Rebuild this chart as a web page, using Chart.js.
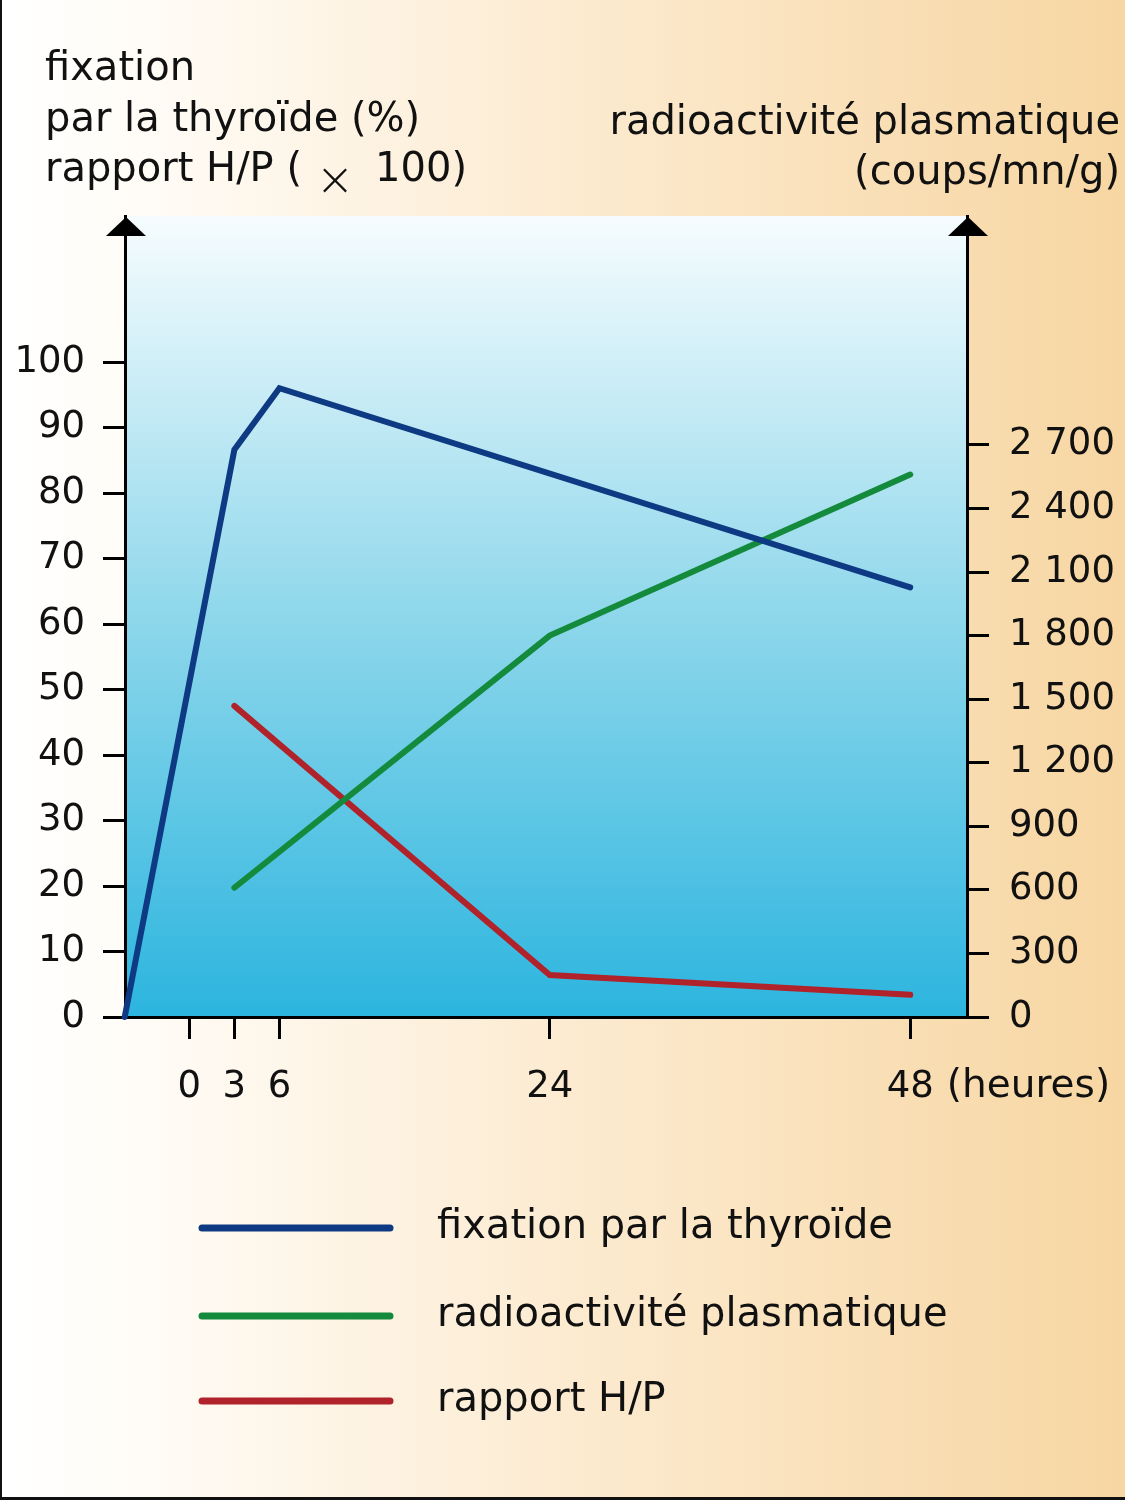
<!DOCTYPE html>
<html>
<head>
<meta charset="utf-8">
<script src="https://cdn.jsdelivr.net/npm/chart.js@4/dist/chart.umd.min.js"></script>
<style>
  html, body { margin: 0; padding: 0; background: #ffffff; }
  #wrap { width: 1125px; height: 1500px; position: relative; overflow: hidden; }
  canvas { display: block; }
</style>
</head>
<body>
<div id="wrap"><canvas id="c" width="1125" height="1500"></canvas></div>
<script>
// ---- data ----
const xTickValues = [0, 3, 6, 24, 48];
const leftTickValues = [0, 10, 20, 30, 40, 50, 60, 70, 80, 90, 100];
const rightTickValues = [0, 300, 600, 900, 1200, 1500, 1800, 2100, 2400, 2700];

const seriesLabels = ['fixation par la thyroïde', 'radioactivité plasmatique', 'rapport H/P'];

const fixationHours = [-4.3, 3, 6, 48];
const fixationValues = [0, 86.6, 96, 65.6];

const radioHours = [3, 24, 48];
const radioValues = [610, 1800, 2560];

const rapportHours = [3, 24, 48];
const rapportValues = [47.5, 6.4, 3.4];

const leftTitleLines = ['fixation', 'par la thyroïde (%)'];
const leftTitleLast = ['rapport H/P (', '×', '100)'];
const rightTitleLines = ['radioactivité plasmatique', '(coups/mn/g)'];
const xUnitLabel = '(heures)';

// ---- styling ----
const FONT = '"DejaVu Sans", "Noto Sans", sans-serif';
const TXT = '#111111';
const colors = ['#0e3a83', '#138a3c', '#b0232a'];

function pts(xs, ys) { return xs.map((x, i) => ({ x: x, y: ys[i] })); }
function fmtThousands(v) { return String(v).replace(/\B(?=(\d{3})+$)/g, ' '); }

const decor = {
  id: 'decor',
  beforeDraw(chart) {
    const ctx = chart.ctx, W = chart.width, H = chart.height, a = chart.chartArea;
    ctx.save();
    const bg = ctx.createLinearGradient(0, 0, W, 0);
    bg.addColorStop(0, '#ffffff');
    bg.addColorStop(0.12, '#fffcf7');
    bg.addColorStop(0.5, '#fcebd1');
    bg.addColorStop(1, '#f7d6a2');
    ctx.fillStyle = bg;
    ctx.fillRect(0, 0, W, H);
    const pg = ctx.createLinearGradient(0, a.top, 0, a.bottom);
    pg.addColorStop(0, '#f6fcfe');
    pg.addColorStop(0.5, '#8ed7eb');
    pg.addColorStop(1, '#2cb5df');
    ctx.fillStyle = pg;
    ctx.fillRect(a.left, a.top, a.right - a.left, a.bottom - a.top);
    ctx.restore();
  },
  afterDraw(chart) {
    const ctx = chart.ctx, W = chart.width, H = chart.height, a = chart.chartArea;
    ctx.save();
    // arrows on top of both vertical axes
    ctx.fillStyle = '#000';
    [a.left + 1, a.right + 1].forEach(x => {
      ctx.beginPath();
      ctx.moveTo(x, a.top + 1);
      ctx.lineTo(x - 20, a.top + 20);
      ctx.lineTo(x + 20, a.top + 20);
      ctx.closePath();
      ctx.fill();
    });
    // titles
    ctx.fillStyle = TXT;
    ctx.font = '40px ' + FONT;
    ctx.textAlign = 'left';
    ctx.textBaseline = 'alphabetic';
    ctx.fillText(leftTitleLines[0], 45, 80);
    ctx.fillText(leftTitleLines[1], 45, 131);
    ctx.fillText(leftTitleLast[0], 45, 181);
    const w0 = ctx.measureText(leftTitleLast[0]).width;
    ctx.fillText(leftTitleLast[2], 45 + w0 + 73, 181);
    ctx.font = '300 46px ' + FONT;
    ctx.textAlign = 'center';
    ctx.fillText(leftTitleLast[1], 45 + w0 + 33, 195);
    ctx.font = '40px ' + FONT;
    ctx.textAlign = 'right';
    ctx.fillText(rightTitleLines[0], 1120, 134);
    ctx.fillText(rightTitleLines[1], 1120, 184);
    // x unit label after the last tick
    const xs = chart.scales.x;
    ctx.font = '37px ' + FONT;
    const lastTick = xTickValues[xTickValues.length - 1];
    const lw = ctx.measureText(String(lastTick)).width;
    ctx.font = '39px ' + FONT;
    ctx.textAlign = 'left';
    ctx.textBaseline = 'middle';
    const lx = xs.getPixelForValue(lastTick) + lw / 2 + 13;
    ctx.fillText(xUnitLabel, lx, a.bottom + 22 + 26 + 22);
    // legend
    const legY = [1228, 1316, 1401];
    chart.data.datasets.forEach((ds, i) => {
      ctx.strokeStyle = ds.borderColor;
      ctx.lineWidth = 7;
      ctx.lineCap = 'round';
      ctx.beginPath();
      ctx.moveTo(202, legY[i]);
      ctx.lineTo(390, legY[i]);
      ctx.stroke();
      ctx.fillStyle = TXT;
      ctx.font = '40px ' + FONT;
      ctx.textAlign = 'left';
      ctx.textBaseline = 'alphabetic';
      ctx.fillText(ds.label, 437, legY[i] + 10);
    });
    // frame lines (left and bottom)
    ctx.fillStyle = '#111';
    ctx.fillRect(0, 0, 2, H);
    ctx.fillRect(0, H - 3, W, 3);
    ctx.restore();
  }
};

const tickFont = { family: FONT, size: 37 };

new Chart(document.getElementById('c'), {
  type: 'line',
  data: {
    datasets: [
      { label: seriesLabels[0], data: pts(fixationHours, fixationValues), borderColor: colors[0], yAxisID: 'yL' },
      { label: seriesLabels[1], data: pts(radioHours, radioValues), borderColor: colors[1], yAxisID: 'yR' },
      { label: seriesLabels[2], data: pts(rapportHours, rapportValues), borderColor: colors[2], yAxisID: 'yL' }
    ].map(d => Object.assign(d, {
      borderWidth: 6, pointRadius: 0, tension: 0, fill: false,
      borderCapStyle: 'round', borderJoinStyle: 'miter', clip: false
    }))
  },
  options: {
    responsive: false,
    devicePixelRatio: 1,
    animation: false,
    layout: { padding: { top: 216, left: 0, right: 0, bottom: 0 } },
    plugins: { legend: { display: false }, tooltip: { enabled: false } },
    scales: {
      x: {
        type: 'linear', position: 'bottom', min: -4.28, max: 51.78,
        afterBuildTicks: s => { s.ticks = xTickValues.map(v => ({ value: v })); },
        afterFit: s => { s.height = 483; },
        grid: { drawOnChartArea: false, drawTicks: true, tickLength: 22, color: '#000', lineWidth: 3 },
        border: { display: true, color: '#000', width: 3 },
        ticks: { font: tickFont, color: TXT, padding: 26, maxRotation: 0, autoSkip: false }
      },
      yL: {
        type: 'linear', position: 'left', min: 0, max: 122.3,
        afterBuildTicks: s => { s.ticks = leftTickValues.map(v => ({ value: v })); },
        afterFit: s => { s.width = 125; },
        grid: { drawOnChartArea: false, drawTicks: true, tickLength: 22, color: '#000', lineWidth: 3 },
        border: { display: true, color: '#000', width: 3 },
        ticks: { font: tickFont, color: TXT, padding: 18, autoSkip: false }
      },
      yR: {
        type: 'linear', position: 'right', min: 0, max: 3780,
        afterBuildTicks: s => { s.ticks = rightTickValues.map(v => ({ value: v })); },
        afterFit: s => { s.width = 158; },
        grid: { drawOnChartArea: false, drawTicks: true, tickLength: 22, color: '#000', lineWidth: 3 },
        border: { display: true, color: '#000', width: 3 },
        ticks: { font: tickFont, color: TXT, padding: 20, autoSkip: false, callback: v => fmtThousands(v) }
      }
    }
  },
  plugins: [decor]
});
</script>
</body>
</html>
